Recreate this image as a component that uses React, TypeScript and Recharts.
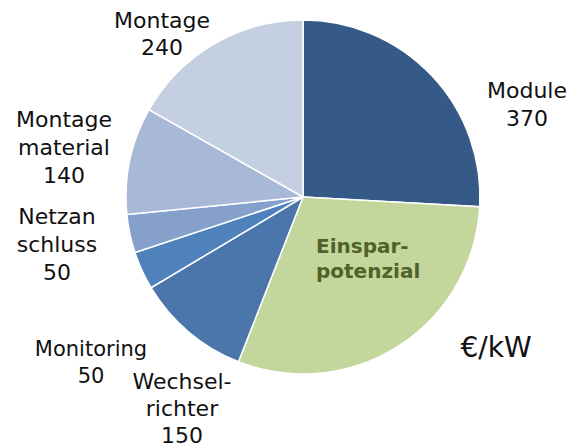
import { Cell, Pie, PieChart } from 'recharts';

type Slice = { name: string; value: number };

// clockwise from 12 o'clock
const names = ['Module', 'Einsparpotenzial', 'Wechselrichter', 'Monitoring', 'Netzanschluss', 'Montagematerial', 'Montage'];
const values = [370, 430, 150, 50, 50, 140, 240];
const colors = ['#355A87', '#C3D69B', '#4A76AC', '#4F81BD', '#84A0CB', '#A8B8D7', '#C4CFE2'];

const data: Slice[] = names.map((name, i) => ({ name, value: values[i] }));

// label text lines (value on the last line), keyed by slice name
const labelLines: Record<string, string[]> = {
  Module: ['Module', '370'],
  Wechselrichter: ['Wechsel-', 'richter', '150'],
  Monitoring: ['Monitoring', '50'],
  Netzanschluss: ['Netzan', 'schluss', '50'],
  Montagematerial: ['Montage', 'material', '140'],
  Montage: ['Montage', '240'],
};

const labelPos: Record<string, { x: number; y: number; size: number; lh: number }> = {
  Module: { x: 527, y: 98, size: 22, lh: 28 },
  Wechselrichter: { x: 182, y: 389, size: 22, lh: 27 },
  Monitoring: { x: 91, y: 356, size: 21, lh: 27 },
  Netzanschluss: { x: 57, y: 224, size: 22, lh: 28 },
  Montagematerial: { x: 64, y: 127, size: 22, lh: 28 },
  Montage: { x: 162, y: 28, size: 22, lh: 27 },
};

const font = '"DejaVu Sans", Verdana, sans-serif';

export default function App() {
  return (
    <div style={{ position: 'absolute', left: 0, top: 0, width: 573, height: 446, background: '#fff' }}>
      <PieChart width={573} height={446} margin={{ top: 0, right: 0, bottom: 0, left: 0 }}>
        <Pie
          data={data}
          dataKey="value"
          nameKey="name"
          cx={303}
          cy={197}
          outerRadius={177}
          startAngle={90}
          endAngle={-270}
          stroke="#fff"
          strokeWidth={1.5}
          isAnimationActive={false}
          label={false}
          labelLine={false}
        >
          {data.map((d, i) => (
            <Cell key={d.name} fill={colors[i]} />
          ))}
        </Pie>
      </PieChart>
      <svg width={573} height={446} style={{ position: 'absolute', left: 0, top: 0, pointerEvents: 'none' }}>
        {Object.keys(labelLines).map((k) => {
          const p = labelPos[k];
          return (
            <text key={k} x={p.x} y={p.y} textAnchor="middle" fontFamily={font} fontSize={p.size} fill="#111">
              {labelLines[k].map((line, j) => (
                <tspan key={j} x={p.x} y={p.y + j * p.lh}>
                  {line}
                </tspan>
              ))}
            </text>
          );
        })}
        <text x={316} y={253} fontFamily={font} fontSize={20} fontWeight="bold" fill="#4F6228">
          <tspan x={316} y={253}>Einspar-</tspan>
          <tspan x={316} y={278}>potenzial</tspan>
        </text>
        <text x={496} y={357} textAnchor="middle" fontFamily={font} fontSize={28} fill="#111">
          €/kW
        </text>
      </svg>
    </div>
  );
}
